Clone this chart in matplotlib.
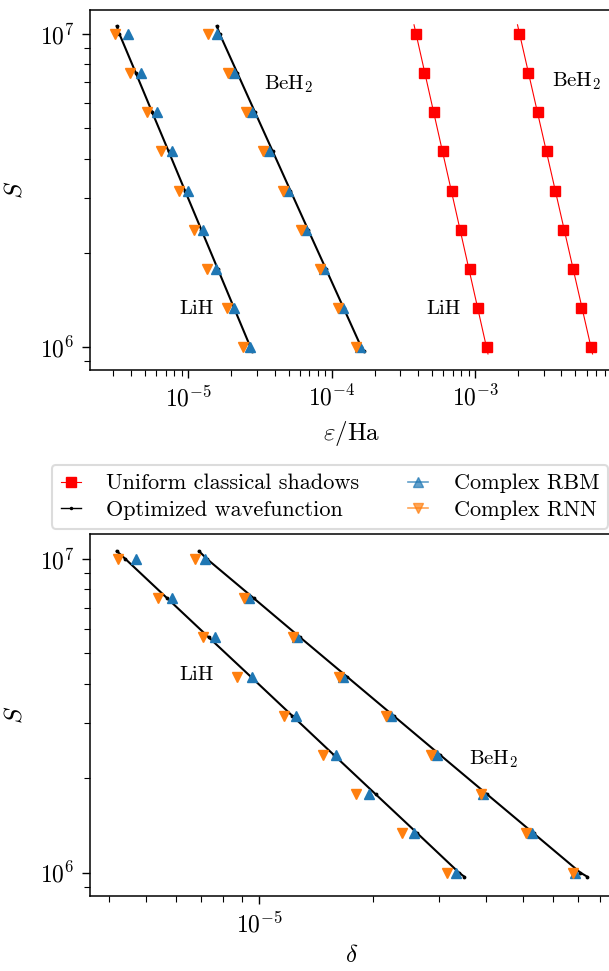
import matplotlib
matplotlib.use("Agg")
import matplotlib.pyplot as plt
from matplotlib.lines import Line2D
from matplotlib.ticker import NullFormatter

plt.rcParams["font.family"] = "cmr10"
plt.rcParams["mathtext.fontset"] = "cm"
plt.rcParams["axes.formatter.use_mathtext"] = True

# Colors:
red = "#ff0000"
blue = "#1f77b4"
orange = "#ff7f0e"

# Number of samples (same for every series)
S = [1.000e7, 7.499e6, 5.623e6, 4.217e6, 3.162e6, 2.371e6, 1.778e6, 1.334e6, 1.000e6]
S_line = [1.06e7, 1.000e7, 7.499e6, 5.623e6, 4.217e6, 3.162e6, 2.371e6, 1.778e6, 1.334e6, 1.000e6, 9.7e5]

# Top panel: energy error eps / Ha
eps_lih_rbm = [3.82e-6, 4.68e-6, 6.02e-6, 7.69e-6, 9.90e-6, 1.26e-5, 1.56e-5, 2.08e-5, 2.71e-5]
eps_lih_rnn = [3.08e-6, 3.92e-6, 5.13e-6, 6.48e-6, 8.65e-6, 1.10e-5, 1.36e-5, 1.85e-5, 2.42e-5]
eps_beh2_rbm = [1.59e-5, 2.09e-5, 2.79e-5, 3.67e-5, 4.98e-5, 6.62e-5, 8.88e-5, 1.19e-4, 1.57e-4]
eps_beh2_rnn = [1.37e-5, 1.88e-5, 2.53e-5, 3.33e-5, 4.55e-5, 6.08e-5, 8.28e-5, 1.10e-4, 1.48e-4]
eps_lih_opt = [3.17e-6, 3.31e-6, 4.31e-6, 5.60e-6, 7.29e-6, 9.47e-6, 1.232e-5, 1.603e-5, 2.083e-5, 2.71e-5, 2.80e-5]
eps_beh2_opt = [1.58e-5, 1.656e-5, 2.20e-5, 2.92e-5, 3.88e-5, 5.15e-5, 6.84e-5, 9.10e-5, 1.209e-4, 1.606e-4, 1.68e-4]
eps_lih_shadow = [3.86e-4, 4.41e-4, 5.18e-4, 5.93e-4, 6.85e-4, 7.95e-4, 9.18e-4, 1.05e-3, 1.21e-3]
eps_beh2_shadow = [2.03e-3, 2.34e-3, 2.75e-3, 3.16e-3, 3.59e-3, 4.13e-3, 4.78e-3, 5.52e-3, 6.41e-3]
S_shadow_line = [1.07e7, 9.5e5]
eps_lih_shadow_line = [3.75e-4, 1.23e-3]
eps_beh2_shadow_line = [1.976e-3, 6.59e-3]

# Bottom panel: delta
d_lih_rbm = [4.70e-6, 5.85e-6, 7.62e-6, 9.57e-6, 1.249e-5, 1.594e-5, 1.958e-5, 2.573e-5, 3.326e-5]
d_lih_rnn = [4.21e-6, 5.39e-6, 7.10e-6, 8.70e-6, 1.162e-5, 1.472e-5, 1.805e-5, 2.387e-5, 3.154e-5]
d_beh2_rbm = [7.17e-6, 9.40e-6, 1.260e-5, 1.664e-5, 2.232e-5, 2.967e-5, 3.929e-5, 5.302e-5, 6.883e-5]
d_beh2_rnn = [6.75e-6, 9.10e-6, 1.230e-5, 1.630e-5, 2.168e-5, 2.854e-5, 3.867e-5, 5.092e-5, 6.787e-5]
d_lih_opt = [4.18e-6, 4.41e-6, 5.69e-6, 7.34e-6, 9.48e-6, 1.223e-5, 1.577e-5, 2.035e-5, 2.626e-5, 3.386e-5, 3.50e-5]
d_beh2_opt = [6.91e-6, 7.26e-6, 9.66e-6, 1.283e-5, 1.707e-5, 2.271e-5, 3.02e-5, 4.018e-5, 5.345e-5, 7.11e-5, 7.42e-5]

W, H = 609, 971
fig = plt.figure(figsize=(W / 100, H / 100), dpi=100)

def px_axes(left, top, right, bottom):
    return fig.add_axes([left / W, 1 - bottom / H, (right - left) / W, (bottom - top) / H])

ax1 = px_axes(90, 10, 614, 370)
ax2 = px_axes(90, 534, 614, 896)

tri_kw = dict(ls="none", ms=7.5, zorder=3)
opt_kw = dict(ls="-", color="black", lw=1.5, marker=".", ms=3.5, zorder=2)

# top panel
ax1.plot(eps_lih_opt, S_line, **opt_kw)
ax1.plot(eps_beh2_opt, S_line, **opt_kw)
ax1.plot(eps_lih_rbm, S, marker="^", color=blue, **tri_kw)
ax1.plot(eps_lih_rnn, S, marker="v", color=orange, **tri_kw)
ax1.plot(eps_beh2_rbm, S, marker="^", color=blue, **tri_kw)
ax1.plot(eps_beh2_rnn, S, marker="v", color=orange, **tri_kw)
ax1.plot(eps_lih_shadow_line, S_shadow_line, "-", color=red, lw=0.8)
ax1.plot(eps_beh2_shadow_line, S_shadow_line, "-", color=red, lw=0.8)
ax1.plot(eps_lih_shadow, S, "s", color=red, ms=6.5, zorder=3)
ax1.plot(eps_beh2_shadow, S, "s", color=red, ms=6.5, zorder=3)

ax1.set_xscale("log")
ax1.set_yscale("log")
ax1.set_xlim(10 ** -5.6855, 10 ** (-5.6855 + 524 / 143.4))
ax1.set_ylim(10 ** 5.9265, 10 ** 7.0767)
ax1.set_xlabel(r"$\varepsilon/\mathrm{Ha}$", fontsize=18, labelpad=6)
ax1.set_ylabel(r"$S$", fontsize=18, labelpad=10)
ax1.text(10 ** -4.3, 10 ** 6.84, r"BeH$_2$", fontsize=15, ha="center", va="center")
ax1.text(10 ** -4.94, 10 ** 6.12, "LiH", fontsize=15, ha="center", va="center")
ax1.text(10 ** -2.29, 10 ** 6.85, r"BeH$_2$", fontsize=15, ha="center", va="center")
ax1.text(10 ** -3.22, 10 ** 6.12, "LiH", fontsize=15, ha="center", va="center")

# bottom panel
ax2.plot(d_lih_opt, S_line, **opt_kw)
ax2.plot(d_beh2_opt, S_line, **opt_kw)
ax2.plot(d_lih_rbm, S, marker="^", color=blue, **tri_kw)
ax2.plot(d_lih_rnn, S, marker="v", color=orange, **tri_kw)
ax2.plot(d_beh2_rbm, S, marker="^", color=blue, **tri_kw)
ax2.plot(d_beh2_rnn, S, marker="v", color=orange, **tri_kw)

ax2.set_xscale("log")
ax2.set_yscale("log")
ax2.set_xlim(10 ** -5.4497, 10 ** (-5.4497 + 524 / 376.7))
ax2.set_ylim(10 ** 5.9253, 10 ** 7.0798)
ax2.set_xlabel(r"$\delta$", fontsize=18, labelpad=6)
ax2.set_ylabel(r"$S$", fontsize=18, labelpad=10)
ax2.text(10 ** -5.166, 10 ** 6.63, "LiH", fontsize=15, ha="center", va="center")
ax2.text(10 ** -4.378, 10 ** 6.36, r"BeH$_2$", fontsize=15, ha="center", va="center")

for ax in (ax1, ax2):
    ax.xaxis.set_minor_formatter(NullFormatter())
    ax.yaxis.set_minor_formatter(NullFormatter())
    ax.tick_params(which="major", length=6, width=1.0, labelsize=17, pad=5)
    ax.tick_params(which="minor", length=4, width=0.8)
    for sp in ax.spines.values():
        sp.set_linewidth(1.1)

handles = [
    Line2D([], [], color=red, marker="s", ms=6.5, lw=0.8),
    Line2D([], [], color="black", marker=".", ms=3, lw=1.0),
    Line2D([], [], color=blue, marker="^", ms=7, lw=1.2, alpha=0.7),
    Line2D([], [], color=orange, marker="v", ms=7, lw=1.2, alpha=0.7),
]
labels = ["Uniform classical shadows", "Optimized wavefunction", "Complex RBM", "Complex RNN"]
leg = fig.legend(handles, labels, ncol=2, loc="upper left", bbox_to_anchor=(51.7 / W, 1 - 465 / H),
                 fontsize=16, frameon=True, handlelength=0.9, handletextpad=1.15, columnspacing=2.2,
                 borderaxespad=0.0, borderpad=0.4, labelspacing=0.3, edgecolor="#d4d4d4")
leg.get_frame().set_linewidth(1.5)

fig.savefig("out.png", dpi=100)
